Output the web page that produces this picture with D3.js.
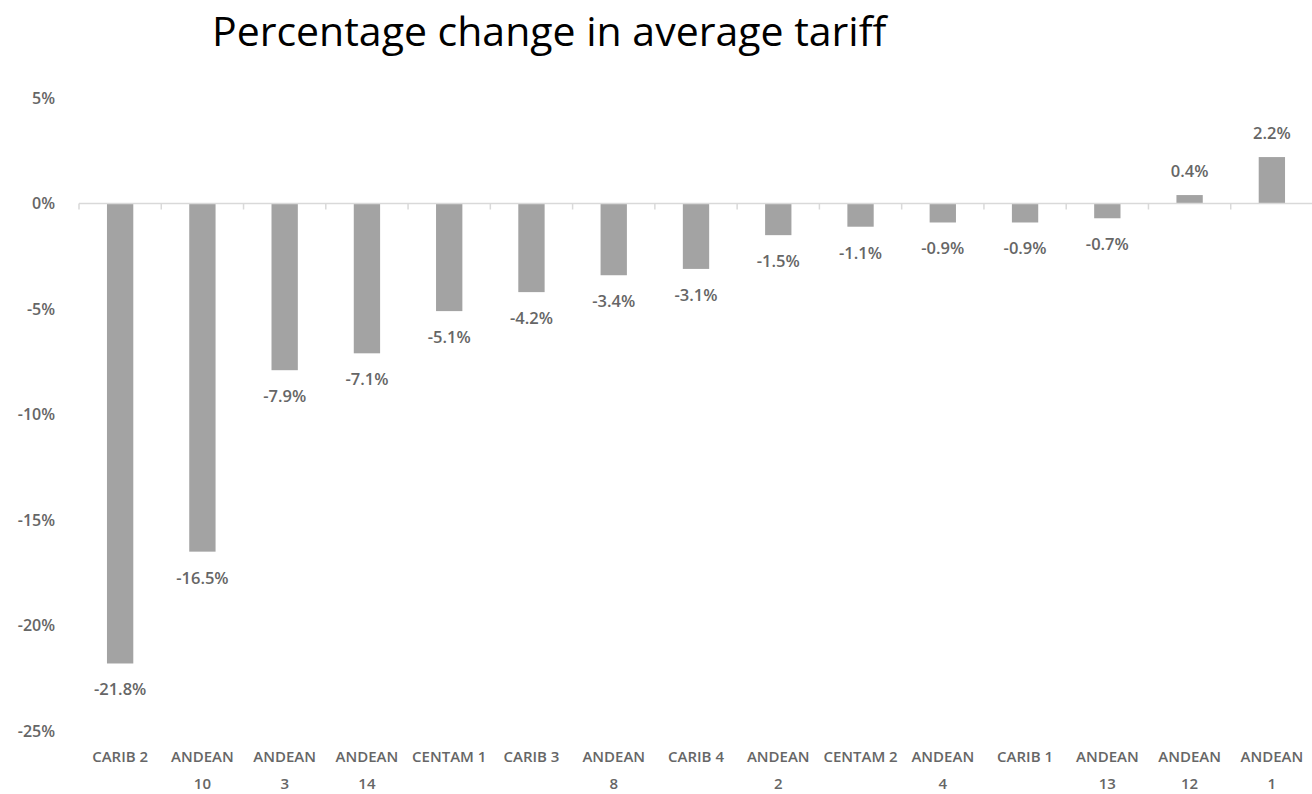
<!DOCTYPE html>
<html lang="en">
  <head>
    <meta charset="utf-8">
    <title>Percentage change in average tariff</title>
    <script src="https://cdn.jsdelivr.net/npm/d3@7"></script>
    <style>
      body { margin: 0; background: #fff; }
      svg { display: block; }
      .title { font: 41px "Open Sans", sans-serif; fill: #000; }
      .tick text { font: 600 16px "Open Sans", sans-serif; fill: #666; }
      .val { font: 600 16.5px "Open Sans", sans-serif; fill: #666; }
      .cat { font: 600 15px "Open Sans", sans-serif; fill: #666; }
    </style>
  </head>
  <body>
    <svg id="chart"></svg>
    <script>
      // data
      var categories = ["CARIB 2", "ANDEAN 10", "ANDEAN 3", "ANDEAN 14", "CENTAM 1", "CARIB 3", "ANDEAN 8",
                        "CARIB 4", "ANDEAN 2", "CENTAM 2", "ANDEAN 4", "CARIB 1", "ANDEAN 13", "ANDEAN 12", "ANDEAN 1"];
      var values = [-21.8, -16.5, -7.9, -7.1, -5.1, -4.2, -3.4, -3.1, -1.5, -1.1, -0.9, -0.9, -0.7, 0.4, 2.2];
      var yTicks = [5, 0, -5, -10, -15, -20, -25];

      var W = 1312, H = 794;
      var mLeft = 79, mRight = 1313, mTop = 98, mBottom = 731;

      var svg = d3.select("#chart").attr("width", W).attr("height", H);

      svg.append("text").attr("class", "title")
        .attr("x", 212).attr("y", 46)
        .text("Percentage change in average tariff");

      var x = d3.scaleBand().domain(categories).range([mLeft, mRight]).paddingInner(0.68).paddingOuter(0.34);
      var band = d3.scaleBand().domain(categories).range([mLeft, mRight]);
      var y = d3.scaleLinear().domain([-25, 5]).range([mBottom, mTop]);

      // y tick labels (no axis line, no gridlines)
      var yAxis = svg.append("g")
        .attr("transform", "translate(58,0)")
        .call(d3.axisLeft(y).tickValues(yTicks).tickSize(0).tickFormat(function(d) { return d + "%"; }));
      yAxis.select(".domain").remove();

      // bars
      svg.selectAll("rect.bar").data(values).enter().append("rect")
        .attr("class", "bar")
        .attr("x", function(d, i) { return x(categories[i]); })
        .attr("width", x.bandwidth())
        .attr("y", function(d) { return y(Math.max(0, d)); })
        .attr("height", function(d) { return Math.abs(y(d) - y(0)); })
        .attr("fill", "#a3a3a3");

      // zero line with category ticks
      svg.append("line")
        .attr("x1", mLeft).attr("x2", mRight).attr("y1", y(0)).attr("y2", y(0))
        .attr("stroke", "#d9d9d9").attr("stroke-width", 1.5);
      svg.selectAll("line.ctick").data(categories.concat(["_end"])).enter().append("line")
        .attr("class", "ctick")
        .attr("x1", function(d, i) { return mLeft + i * band.bandwidth(); })
        .attr("x2", function(d, i) { return mLeft + i * band.bandwidth(); })
        .attr("y1", y(0)).attr("y2", y(0) + 6)
        .attr("stroke", "#d9d9d9").attr("stroke-width", 1.5);

      // value labels
      svg.selectAll("text.val").data(values).enter().append("text")
        .attr("class", "val")
        .attr("text-anchor", "middle")
        .attr("x", function(d, i) { return x(categories[i]) + x.bandwidth() / 2; })
        .attr("y", function(d) { return d < 0 ? y(d) + 32 : y(d) - 18; })
        .text(function(d) { return d.toFixed(1) + "%"; });

      // category labels, split into two lines like the original
      var cats = svg.selectAll("text.cat").data(categories).enter().append("text")
        .attr("class", "cat")
        .attr("text-anchor", "middle")
        .attr("x", function(d) { return band(d) + band.bandwidth() / 2; })
        .attr("y", 762);
      cats.each(function(d) {
        var parts = d.split(" ");
        var t = d3.select(this);
        if (parts[0] === "ANDEAN") {
          t.append("tspan").attr("x", t.attr("x")).text(parts[0]);
          t.append("tspan").attr("x", t.attr("x")).attr("dy", 27).text(parts[1]);
        } else {
          t.text(d);
        }
      });
    </script>
  </body>
</html>
